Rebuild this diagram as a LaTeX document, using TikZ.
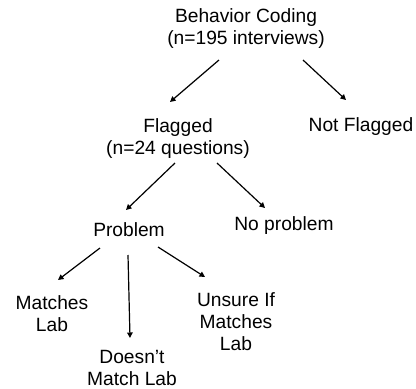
\documentclass[tikz,border=0pt]{standalone}
\usepackage{fontspec}
\setmainfont{Liberation Sans}
\usetikzlibrary{arrows.meta}
\begin{document}
\begin{tikzpicture}[x=1pt,y=-1pt,
  lbl/.style={align=center,inner sep=0pt,outer sep=0pt,font=\fontsize{19.2}{22}\selectfont},
  arr/.style={line width=1.2pt,-{Triangle[length=5.5pt,width=5.5pt]}}]
\useasboundingbox[fill=white] (0,0) rectangle (416,389);
\node[lbl] (bc) at (246,28.5) {Behavior Coding\\(n=195 interviews)};
\node[lbl] (flag) at (178,139) {Flagged\\(n=24 questions)};
\node[lbl] (nf) at (361,127) {Not Flagged};
\node[lbl] (prob) at (129,230) {Problem};
\node[lbl] (np) at (284,226) {No problem};
\node[lbl] (ml) at (52,314) {Matches\\Lab};
\node[lbl] (dml) at (132,368) {Doesn’t\\Match Lab};
\node[lbl] (un) at (236,322) {Unsure If\\Matches\\Lab};
\draw[arr] ([shift={(-27,31.5)}]bc.center) -- ([shift={(-8,-37)}]flag.center);
\draw[arr] ([shift={(57,31.5)}]bc.center) -- ([shift={(-15,-27)}]nf.center);
\draw[arr] ([shift={(-3,24)}]flag.center) -- ([shift={(-3,-20)}]prob.center);
\draw[arr] ([shift={(39,24)}]flag.center) -- ([shift={(-19,-18)}]np.center);
\draw[arr] ([shift={(-29,18)}]prob.center) -- ([shift={(6,-34)}]ml.center);
\draw[arr] ([shift={(-1,25)}]prob.center) -- ([shift={(-2,-30)}]dml.center);
\draw[arr] ([shift={(29,17)}]prob.center) -- ([shift={(-31,-45)}]un.center);
\end{tikzpicture}
\end{document}
